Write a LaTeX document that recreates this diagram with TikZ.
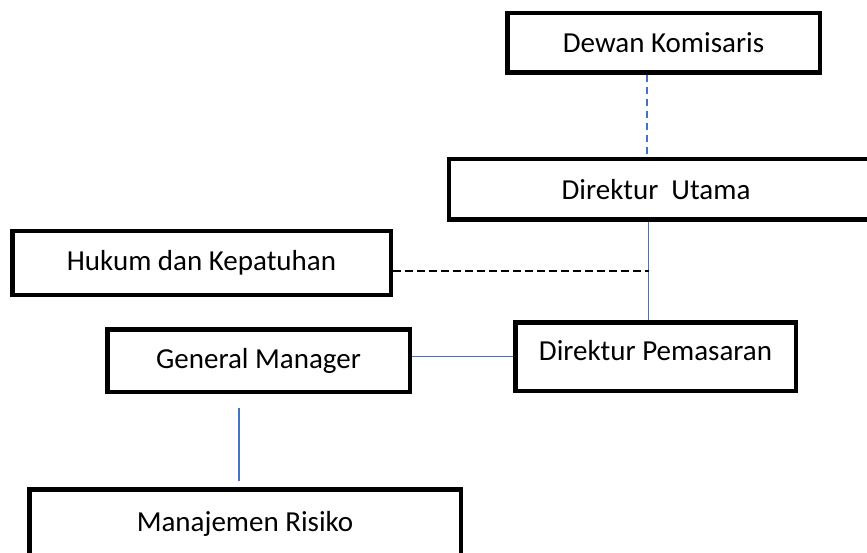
\documentclass[tikz,border=0pt]{standalone}
\usepackage{fontspec}
\setmainfont{Carlito}
\usetikzlibrary{positioning}
\definecolor{orgblue}{RGB}{68,114,196}

\begin{document}
\begin{tikzpicture}[x=1pt,y=-1pt,
    box/.style={draw,line width=4.5pt,rectangle,inner sep=0pt,
        font=\fontsize{29}{34}\selectfont},
    blueline/.style={orgblue,line width=1.5pt},
    bluedash/.style={orgblue,line width=1.5pt,dash pattern=on 7pt off 5pt},
    blackdash/.style={black,line width=1.5pt,dash pattern=on 8pt off 4pt}]

        \useasboundingbox (0,0) rectangle (867,553);
        \clip (0,0) rectangle (867,553);

        \node[box,minimum width=312.5pt,minimum height=59.5pt] (dk) at (663.5,43) {Dewan Komisaris};
        \node[box,minimum width=440pt,minimum height=60.5pt] (du) at (669,189.5) {Direktur\ \ Utama\hspace*{26pt}};
        \node[box,minimum width=378.5pt,minimum height=63.5pt] (hk) at (201.5,263) {Hukum dan Kepatuhan};
        \node[box,minimum width=280.5pt,minimum height=68.5pt] (dp) at (655.5,356.5) {\raisebox{12pt}{Direktur Pemasaran}};
        \node[box,minimum width=302.5pt,minimum height=62.5pt] (gm) at (258.5,360.5) {General Manager};
        \node[box,minimum width=431.5pt,minimum height=82pt] (mr) at (245,530.5) {\raisebox{18pt}{Manajemen Risiko}};

        \coordinate (hkj) at ([xshift=-7pt]dp.north |- hk.east);

        \draw[bluedash] ([xshift=-16.5pt]dk.south) -- ([xshift=-16.5pt]dk.south |- du.north);
        \draw[blueline] ([xshift=-7pt]dp.north |- du.south) -- ([xshift=-7pt]dp.north);
        \draw[blackdash] ([yshift=-8pt]hk.east) -- ([yshift=-8pt]hkj);
        \draw[blueline] (gm.east |- dp.west) -- (dp.west);
        \draw[blueline,shorten <=14pt,shorten >=6pt] ([xshift=-19.5pt]gm.south) -- ([xshift=-19.5pt]gm.south |- mr.north);

    \end{tikzpicture}
\end{document}
